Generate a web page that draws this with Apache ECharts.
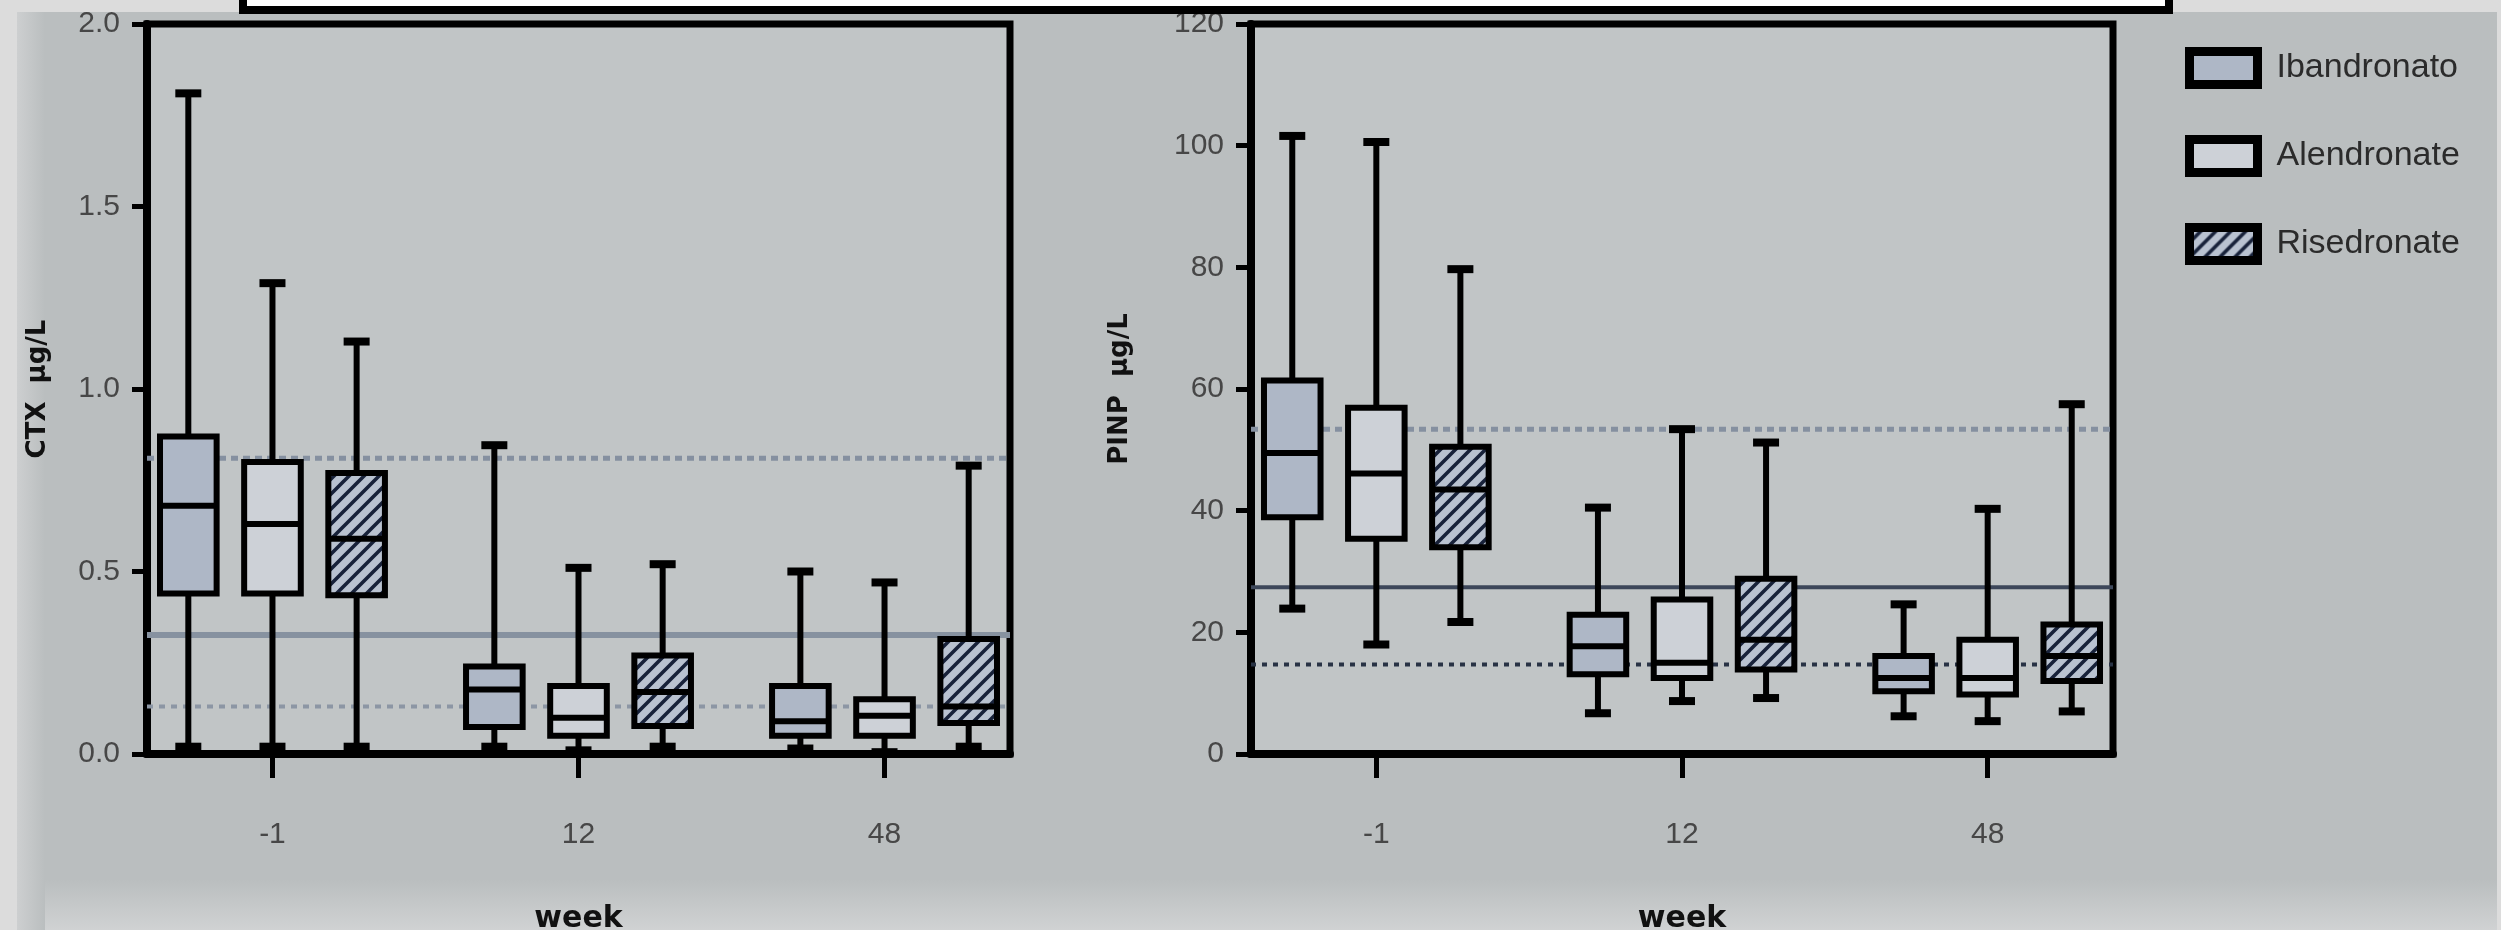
<!DOCTYPE html>
<html>
<head>
<meta charset="utf-8">
<script src="https://cdn.jsdelivr.net/npm/echarts@6/dist/echarts.min.js"></script>
<style>
  html, body { margin: 0; padding: 0; background: #dcdcdc; }
  #chart { width: 2501px; height: 930px; }
</style>
</head>
<body>
<div id="chart"></div>
<script>
// ---- data ----
const weeks = ['-1', '12', '48'];
const drugs = ['Ibandronato', 'Alendronate', 'Risedronate'];
// each entry: [min, Q1, median, Q3, max] for weeks -1, 12, 48
const ctxIband = [[0.02, 0.44, 0.68, 0.87, 1.81], [0.02, 0.074, 0.177, 0.24, 0.846], [0.015, 0.05, 0.09, 0.186, 0.50]];
const ctxAlend = [[0.02, 0.44, 0.63, 0.80, 1.29], [0.01, 0.05, 0.099, 0.186, 0.51], [0.005, 0.05, 0.105, 0.15, 0.47]];
const ctxRise  = [[0.02, 0.435, 0.59, 0.77, 1.13], [0.02, 0.077, 0.17, 0.27, 0.52], [0.02, 0.085, 0.13, 0.315, 0.79]];
const pinpIband = [[23.9, 38.9, 49.5, 61.4, 101.6], [6.7, 13.1, 17.7, 22.9, 40.5], [6.2, 10.3, 12.5, 16.1, 24.6]];
const pinpAlend = [[18.0, 35.4, 46.1, 56.9, 100.6], [8.7, 12.5, 15.0, 25.4, 53.4], [5.4, 9.8, 12.5, 18.8, 40.3]];
const pinpRise  = [[21.7, 34.0, 43.5, 50.5, 79.7], [9.2, 13.9, 18.8, 28.8, 51.2], [7.0, 12.0, 16.1, 21.3, 57.5]];
// reference range lines
const ctxRefDotted = [0.81, 0.13];
const ctxRefSolid = [0.326];
const pinpRefDotted = [53.4, 14.7];
const pinpRefSolid = [27.4];
// axis ticks
const ctxTicks = [0, 0.5, 1.0, 1.5, 2.0];
const pinpTicks = [0, 20, 40, 60, 80, 100, 120];

// ---- styling ----
const FONT = '"Liberation Sans", Arial, sans-serif';
const drugOffset = [-0.275, 0, 0.275];   // within-group offset (axis units)
const boxWidthUnits = 0.185;

function hatchCanvas() {
  const c = document.createElement('canvas');
  c.width = 15; c.height = 15;
  const x = c.getContext('2d');
  x.fillStyle = '#b9c2d0';
  x.fillRect(0, 0, 15, 15);
  x.strokeStyle = '#18223a';
  x.lineWidth = 3.6;
  x.beginPath();
  x.moveTo(-2, 17); x.lineTo(17, -2);
  x.moveTo(-8, 8); x.lineTo(8, -8);
  x.moveTo(7, 23); x.lineTo(23, 7);
  x.stroke();
  return c;
}
const hatchFill = { image: hatchCanvas(), repeat: 'repeat' };
const fills = ['#aeb7c6', '#cdd1d7', hatchFill];

function boxSeries(name, arr, drugIdx, gi) {
  const fill = fills[drugIdx];
  return {
    type: 'custom',
    name: name,
    xAxisIndex: gi,
    yAxisIndex: gi,
    z: 3,
    itemStyle: { color: fill, borderColor: '#000', borderWidth: 8 },
    data: arr.map((d, i) => [i].concat(d)),
    encode: { x: 0, y: [1, 2, 3, 4, 5] },
    renderItem: function (params, api) {
      const x = api.value(0) + drugOffset[drugIdx];
      const unit = api.size([1, 0])[0];
      const w = unit * boxWidthUnits;
      const pMin = api.coord([x, api.value(1)]);
      const pQ1 = api.coord([x, api.value(2)]);
      const pMed = api.coord([x, api.value(3)]);
      const pQ3 = api.coord([x, api.value(4)]);
      const pMax = api.coord([x, api.value(5)]);
      const cx = pMin[0];
      const lw = 6;
      return {
        type: 'group',
        children: [
          { type: 'line', shape: { x1: cx, y1: pQ3[1], x2: cx, y2: pMax[1] }, style: { stroke: '#000', lineWidth: lw } },
          { type: 'line', shape: { x1: cx, y1: pQ1[1], x2: cx, y2: pMin[1] }, style: { stroke: '#000', lineWidth: lw } },
          { type: 'rect', shape: { x: cx - 13, y: pMax[1] - 4, width: 26, height: 8 }, style: { fill: '#000' } },
          { type: 'rect', shape: { x: cx - 13, y: pMin[1] - 4, width: 26, height: 8 }, style: { fill: '#000' } },
          { type: 'rect', shape: { x: cx - w / 2, y: pQ3[1], width: w, height: pQ1[1] - pQ3[1] }, style: { fill: fill, stroke: '#000', lineWidth: lw } },
          { type: 'line', shape: { x1: cx - w / 2, y1: pMed[1], x2: cx + w / 2, y2: pMed[1] }, style: { stroke: '#000', lineWidth: lw } }
        ]
      };
    }
  };
}

function refSeries(values, gi, style) {
  return {
    type: 'custom',
    xAxisIndex: gi,
    yAxisIndex: gi,
    z: 2,
    silent: true,
    data: values.map(v => [0, v]),
    encode: { x: 0, y: 1 },
    renderItem: function (params, api) {
      const y = api.coord([0, api.value(1)])[1];
      const cs = params.coordSys;
      return { type: 'line', shape: { x1: cs.x, y1: y, x2: cs.x + cs.width, y2: y }, style: style };
    }
  };
}

function xAxisDef(gi) {
  return {
    type: 'value', gridIndex: gi, min: -0.41, max: 2.41,
    splitLine: { show: false },
    axisLine: { show: true, onZero: false, lineStyle: { color: '#000', width: 8 } },
    axisTick: { show: true, customValues: [0, 1, 2], length: 24, lineStyle: { color: '#000', width: 5 } },
    axisLabel: { customValues: [0, 1, 2], formatter: v => weeks[Math.round(v)], margin: 66,
      fontSize: 30, color: '#474747', fontFamily: FONT },
    name: 'week', nameLocation: 'middle', nameGap: 150,
    nameTextStyle: { fontSize: 30, fontWeight: 'bold', color: '#111', fontFamily: '"DejaVu Sans", sans-serif' }
  };
}

function yAxisDef(gi, ticks, name, gap, fmt) {
  return {
    type: 'value', gridIndex: gi, min: ticks[0], max: ticks[ticks.length - 1],
    interval: ticks[1] - ticks[0],
    splitLine: { show: false },
    axisLine: { show: true, onZero: false, lineStyle: { color: '#000', width: 8 } },
    axisTick: { show: true, length: 15, lineStyle: { color: '#000', width: 5 } },
    axisLabel: { formatter: fmt, margin: 27, fontSize: 30, color: '#474747', fontFamily: FONT },
    name: name, nameLocation: 'middle', nameRotate: 90, nameGap: gap,
    nameTextStyle: { fontSize: 26, fontWeight: 'bold', color: '#111', fontFamily: '"DejaVu Sans", sans-serif' }
  };
}

const dottedUpper = { stroke: '#8590a0', lineWidth: 5, lineDash: [7, 5] };
const dottedCtxLower = { stroke: '#8c96a4', lineWidth: 4, lineDash: [6, 6] };
const solidCtx = { stroke: '#8792a0', lineWidth: 6 };
const solidPinp = { stroke: '#3d475a', lineWidth: 4 };
const dottedPinpLower = { stroke: '#283244', lineWidth: 4, lineDash: [5, 6] };

const chart = echarts.init(document.getElementById('chart'), null, { renderer: 'canvas' });
const option = {
  backgroundColor: 'transparent',
  animation: false,
  graphic: [
    { type: 'rect', z: -10, shape: { x: 17, y: 12, width: 2480, height: 881 }, style: { fill: '#babebf' } },
    { type: 'rect', z: -9, shape: { x: 17, y: 880, width: 2480, height: 50 },
      style: { fill: new echarts.graphic.LinearGradient(0, 0, 0, 1, [{ offset: 0, color: '#babebf' }, { offset: 1, color: '#d0d2d3' }]) } },
    { type: 'rect', z: -9, shape: { x: 17, y: 12, width: 28, height: 918 },
      style: { fill: new echarts.graphic.LinearGradient(0, 0, 1, 0, [{ offset: 0, color: '#cdcfd0' }, { offset: 1, color: '#babebf' }]) } },
    { type: 'rect', z: 10, shape: { x: 243, y: -20, width: 1926, height: 30 }, style: { fill: '#ffffff', stroke: '#000', lineWidth: 8 } }
  ],
  grid: [
    { left: 147, top: 24, width: 863, height: 730, containLabel: false, outerBoundsMode: 'none',
      show: true, backgroundColor: '#c1c5c6', borderColor: '#000', borderWidth: 7 },
    { left: 1251, top: 24, width: 862, height: 730, containLabel: false, outerBoundsMode: 'none',
      show: true, backgroundColor: '#c1c5c6', borderColor: '#000', borderWidth: 7 }
  ],
  xAxis: [xAxisDef(0), xAxisDef(1)],
  yAxis: [
    yAxisDef(0, ctxTicks, 'CTX  µg/L', 96, v => v.toFixed(1)),
    yAxisDef(1, pinpTicks, 'PINP  µg/L', 118, v => String(v))
  ],
  legend: {
    orient: 'vertical', left: 2180, top: 42, itemWidth: 68, itemHeight: 33, itemGap: 46,
    icon: 'rect',
    textStyle: { fontSize: 34, color: '#2b2b2b', fontFamily: FONT, padding: [0, 0, 0, 14] },
    data: drugs.map((d, i) => ({ name: d, itemStyle: { color: fills[i], borderColor: '#000', borderWidth: 9 } }))
  },
  series: [
    refSeries(ctxRefDotted.slice(0, 1), 0, dottedUpper),
    refSeries(ctxRefDotted.slice(1), 0, dottedCtxLower),
    refSeries(ctxRefSolid, 0, solidCtx),
    refSeries(pinpRefDotted.slice(0, 1), 1, dottedUpper),
    refSeries(pinpRefDotted.slice(1), 1, dottedPinpLower),
    refSeries(pinpRefSolid, 1, solidPinp),
    boxSeries(drugs[0], ctxIband, 0, 0),
    boxSeries(drugs[1], ctxAlend, 1, 0),
    boxSeries(drugs[2], ctxRise, 2, 0),
    boxSeries(drugs[0], pinpIband, 0, 1),
    boxSeries(drugs[1], pinpAlend, 1, 1),
    boxSeries(drugs[2], pinpRise, 2, 1)
  ]
};
chart.setOption(option);
</script>
</body>
</html>
